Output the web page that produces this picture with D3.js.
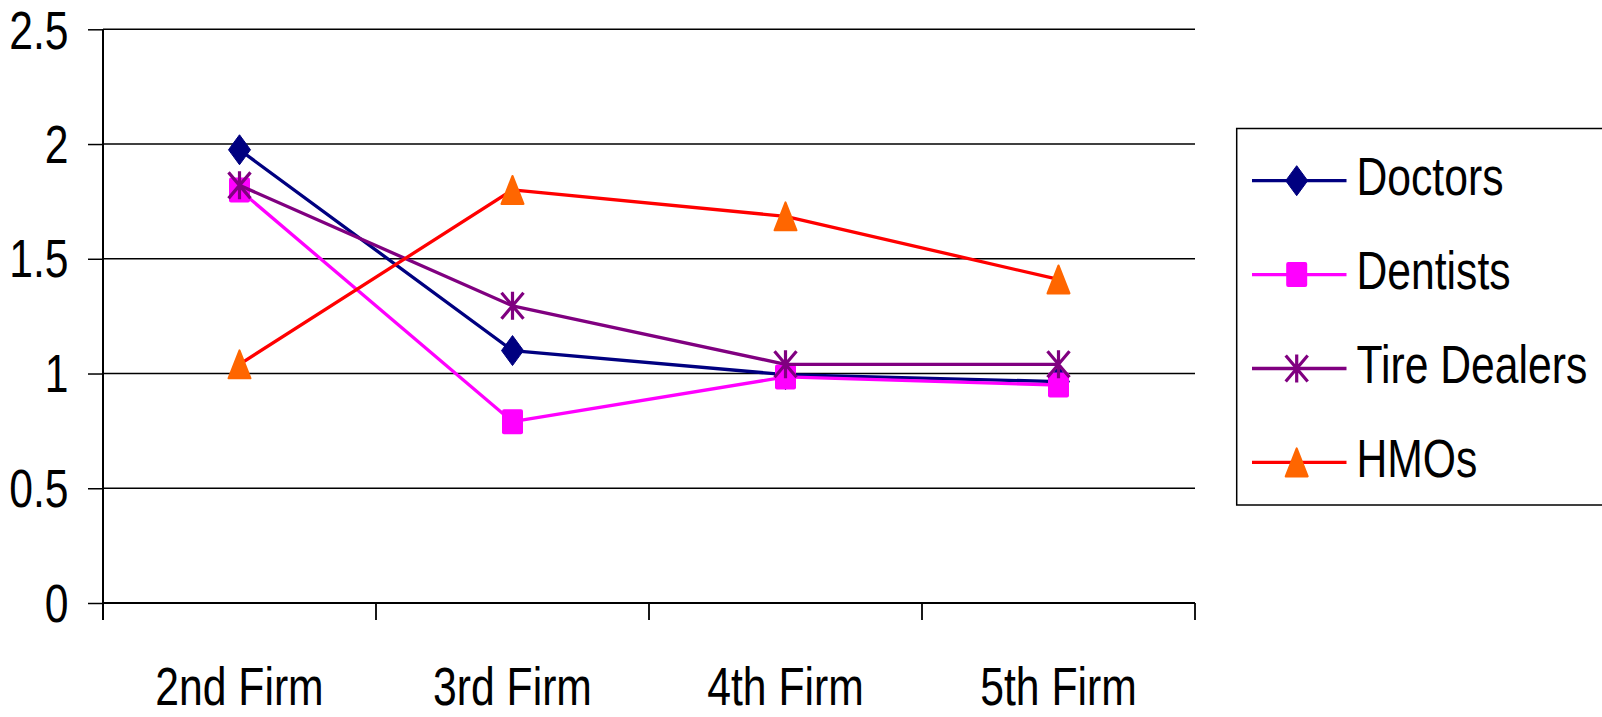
<!DOCTYPE html>
<html><head><meta charset="utf-8">
<script src="https://cdn.jsdelivr.net/npm/d3@7"></script>
<style>
html,body{margin:0;padding:0;background:#fff;}
svg{display:block;}
text{font-family:"Liberation Sans",Arial,sans-serif;fill:#000;}
</style></head>
<body>
<svg id="chart" width="1602" height="717"></svg>
<script>
const categories = ["2nd Firm","3rd Firm","4th Firm","5th Firm"];
const seriesNames = ["Doctors","Dentists","Tire Dealers","HMOs"];
const doctors = [1.975, 1.10, 0.995, 0.965];
const dentists = [1.80, 0.79, 0.985, 0.95];
const tireDealers = [1.82, 1.295, 1.04, 1.04];
const hmos = [1.04, 1.80, 1.685, 1.41];
const yTicks = [0, 0.5, 1, 1.5, 2, 2.5];

const lineColors = ["#000080","#FF00FF","#800080","#FF0000"];
const markerColors = ["#000080","#FF00FF","#800080","#FF6600"];
const markerTypes = ["diamond","square","asterisk","triangle"];
const seriesValues = [doctors, dentists, tireDealers, hmos];

const FS = 54, SX = 0.79;
const svg = d3.select("#chart");
const x = d3.scaleBand().domain(categories).range([103, 1195]);
const y = d3.scaleLinear().domain([0, 2.5]).range([603, 29.3]);
const cx = c => x(c) + x.bandwidth()/2;

// gridlines
svg.append("g").selectAll("line").data(yTicks.filter(t=>t>0)).join("line")
  .attr("x1", 103).attr("x2", 1195)
  .attr("y1", d=>y(d)).attr("y2", d=>y(d))
  .attr("stroke", "#000").attr("stroke-width", 1.5);

// y axis
const yAxis = svg.append("g").attr("transform","translate(103,0)")
  .call(d3.axisLeft(y).tickValues(yTicks).tickSize(15).tickSizeOuter(0).tickFormat(d=>String(d)));
yAxis.select(".domain").remove();
yAxis.selectAll(".tick line").attr("stroke","#000").attr("stroke-width",1.5);
yAxis.selectAll(".tick text")
  .attr("x", null).attr("dy", null)
  .attr("text-anchor","end")
  .attr("font-size", FS)
  .attr("transform", d => "translate(-34.5," + (d === 2.5 ? 19.5 : 18) + ") scale(" + SX + ",1)");
svg.append("line").attr("x1",103).attr("x2",103).attr("y1", y(2.5)).attr("y2", 620)
  .attr("stroke","#000").attr("stroke-width",2);

// x axis
svg.append("line").attr("x1",103).attr("x2",1195).attr("y1",y(0)).attr("y2",y(0))
  .attr("stroke","#000").attr("stroke-width",2);
const boundaries = categories.map(c=>x(c)).concat([x(categories[categories.length-1]) + x.bandwidth()]);
svg.append("g").selectAll("line").data(boundaries).join("line")
  .attr("x1",d=>d).attr("x2",d=>d).attr("y1",y(0)).attr("y2",620)
  .attr("stroke","#000").attr("stroke-width",1.8);
svg.append("g").selectAll("text").data(categories).join("text")
  .attr("text-anchor","middle").attr("font-size",FS)
  .attr("transform", d=>"translate(" + cx(d) + ",705) scale(" + SX + ",1)")
  .text(d=>d);

// marker drawing
function drawMarker(g, type, color){
  if(type==="diamond"){
    g.append("path").attr("d","M0,-15L11,0L0,15L-11,0Z").attr("fill",color)
      .attr("stroke",color).attr("stroke-width",1).attr("stroke-linejoin","round");
  } else if(type==="square"){
    g.append("rect").attr("x",-10.5).attr("y",-12.5).attr("width",21).attr("height",25)
      .attr("rx",2).attr("fill",color);
  } else if(type==="asterisk"){
    const p = "M0,-14L0,14M-11,-13L11,13M11,-13L-11,13";
    g.append("path").attr("d",p).attr("stroke",color).attr("stroke-width",3.2).attr("fill","none");
  } else if(type==="triangle"){
    g.append("path").attr("d","M0,-14L11,14L-11,14Z").attr("fill",color)
      .attr("stroke",color).attr("stroke-width",2).attr("stroke-linejoin","round");
  }
}

const line = d3.line().x((d,i)=>cx(categories[i])).y(d=>y(d));
seriesValues.forEach((vals, si)=>{
  const g = svg.append("g");
  g.append("path").datum(vals).attr("d", line).attr("fill","none")
    .attr("stroke", lineColors[si]).attr("stroke-width",3.3).attr("stroke-linejoin","round");
  vals.forEach((v,i)=>{
    const m = g.append("g").attr("transform","translate(" + cx(categories[i]) + "," + y(v) + ")");
    drawMarker(m, markerTypes[si], markerColors[si]);
  });
});

// legend
const leg = svg.append("g");
leg.append("rect").attr("x",1236.7).attr("y",128.5).attr("width",400).attr("height",376.5)
  .attr("fill","#fff").attr("stroke","#000").attr("stroke-width",1.5);
seriesNames.forEach((name, si)=>{
  const ry = 180.7 + si*93.9;
  leg.append("line").attr("x1",1252).attr("x2",1346.5).attr("y1",ry).attr("y2",ry)
    .attr("stroke",lineColors[si]).attr("stroke-width",3.3);
  const m = leg.append("g").attr("transform","translate(1296.7," + ry + ")");
  drawMarker(m, markerTypes[si], markerColors[si]);
  leg.append("text").attr("font-size",FS)
    .attr("transform","translate(1356.5," + (ry+14.5) + ") scale(" + SX + ",1)")
    .text(name);
});
</script>
</body></html>
